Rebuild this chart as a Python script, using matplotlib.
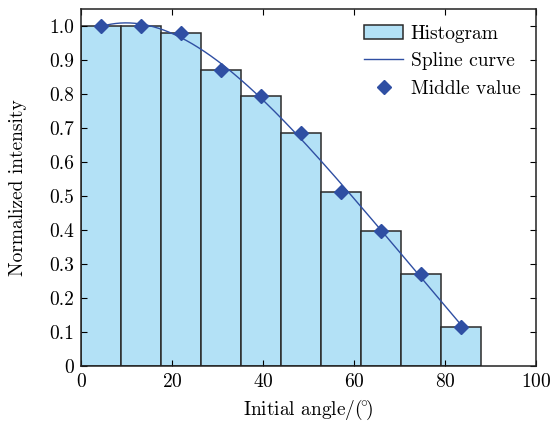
import numpy as np
import matplotlib
matplotlib.use('Agg')
import matplotlib.pyplot as plt
from matplotlib.patches import Patch
from matplotlib.lines import Line2D

plt.rcParams['font.family'] = 'serif'
plt.rcParams['font.serif'] = ['cmr10', 'DejaVu Serif']
plt.rcParams['mathtext.fontset'] = 'cm'
plt.rcParams['axes.formatter.use_mathtext'] = True

# histogram data
bin_width = 8.8
bin_left = [0.0, 8.8, 17.6, 26.4, 35.2, 44.0, 52.8, 61.6, 70.4, 79.2]
intensity = [1.0, 1.0, 0.978, 0.871, 0.795, 0.686, 0.513, 0.398, 0.270, 0.116]

# middle values
mid_x = [4.4, 13.2, 22.0, 30.8, 39.6, 48.4, 57.2, 66.0, 74.8, 83.6]
mid_y = [1.0, 1.0, 0.978, 0.871, 0.795, 0.686, 0.513, 0.398, 0.270, 0.116]

x_ticks = [0, 20, 40, 60, 80, 100]
y_ticks = [0, 0.1, 0.2, 0.3, 0.4, 0.5, 0.6, 0.7, 0.8, 0.9, 1.0]
y_labels = ['0', '0.1', '0.2', '0.3', '0.4', '0.5', '0.6', '0.7', '0.8', '0.9', '1.0']

BAR_C = '#b3e1f6'
LINE_C = '#2f4fa3'
FS = 14

fig = plt.figure(figsize=(5.57, 4.21), dpi=100)
ax = fig.add_axes([0.1454, 0.1306, 0.8169, 0.848])

ax.bar(bin_left, intensity, width=bin_width, align='edge',
       color=BAR_C, edgecolor='#2a2a2a', linewidth=1.1, zorder=1)

# smooth curve: least squares fit through the middle values
coef = np.polyfit(mid_x, mid_y, 4)
xs = np.linspace(mid_x[0], mid_x[-1], 300)
ax.plot(xs, np.polyval(coef, xs), color=LINE_C, lw=1.0, zorder=2)
ax.plot(mid_x, mid_y, 'D', color=LINE_C, ms=7, zorder=3)

ax.set_xlim(0, 100)
ax.set_ylim(0, 1.05)
ax.set_xticks(x_ticks)
ax.set_yticks(y_ticks)
ax.set_yticklabels(y_labels)
ax.tick_params(direction='in', top=True, right=True, labelsize=FS,
               length=4, width=0.8, pad=5)
for s in ax.spines.values():
    s.set_linewidth(1.1)
    s.set_color('#222222')

ax.set_xlabel(r'Initial angle/($\!^{\circ}\!$)', fontsize=FS, labelpad=5)
ax.set_ylabel('Normalized intensity', fontsize=FS, labelpad=16)

handles = [Patch(facecolor=BAR_C, edgecolor='#2a2a2a', linewidth=1.1),
           Line2D([], [], color=LINE_C, lw=1.0),
           Line2D([], [], marker='D', ls='none', color=LINE_C, ms=7)]
ax.legend(handles, ['Histogram', 'Spline curve', 'Middle value'],
          loc='upper right', frameon=False, fontsize=FS,
          handlelength=2.0, handletextpad=0.4, labelspacing=0.5,
          borderaxespad=0.4)

fig.savefig('out.png', dpi=100)
